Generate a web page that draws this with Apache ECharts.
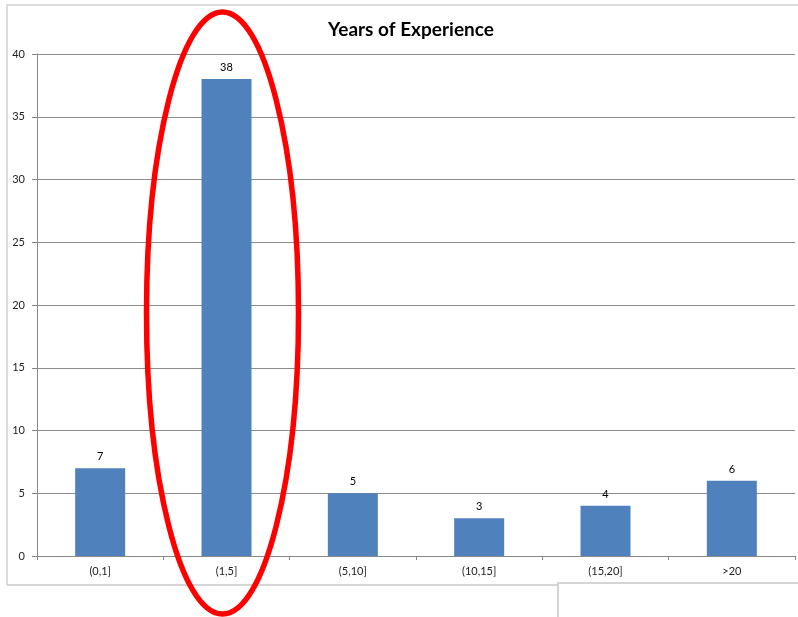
<!DOCTYPE html>
<html>
<head>
<meta charset="utf-8">
<script src="https://cdn.jsdelivr.net/npm/echarts@6/dist/echarts.min.js"></script>
<style>
  html, body { margin: 0; padding: 0; background: #ffffff; }
  #chart { width: 798px; height: 617px; }
</style>
</head>
<body>
<div id="chart"></div>
<script>
// Experience buckets and respondent counts
const categories = ['(0,1]', '(1,5]', '(5,10]', '(10,15]', '(15,20]', '>20'];
const counts = [7, 38, 5, 3, 4, 6];
const yTicks = { min: 0, max: 40, interval: 5 };
const highlighted = '(1,5]';

const chart = echarts.init(document.getElementById('chart'));
const font = 'Lato, "Open Sans", sans-serif';

chart.setOption({
  animation: false,
  backgroundColor: '#ffffff',
  title: {
    text: 'Years of Experience',
    left: 406,
    top: 15,
    textAlign: 'center',
    textStyle: { fontFamily: font, fontSize: 19, fontWeight: 'bold', color: '#000000' }
  },
  grid: { left: 37, right: 3, top: 54, bottom: 61 },
  xAxis: {
    type: 'category',
    data: categories,
    axisLine: { lineStyle: { color: '#888888', width: 1 } },
    axisTick: { show: true, length: 4, lineStyle: { color: '#888888' } },
    axisLabel: { fontFamily: font, fontSize: 11, color: '#222222', margin: 10 }
  },
  yAxis: {
    type: 'value',
    min: yTicks.min,
    max: yTicks.max,
    interval: yTicks.interval,
    axisLine: { show: true, lineStyle: { color: '#888888', width: 1 } },
    axisTick: { show: true, length: 5, lineStyle: { color: '#888888' } },
    axisLabel: { fontFamily: font, fontSize: 11, color: '#222222', margin: 12 },
    splitLine: { lineStyle: { color: '#8c8c8c', width: 1 } }
  },
  series: [{
    type: 'bar',
    data: counts,
    barWidth: 50,
    itemStyle: { color: '#4f81bd' },
    label: {
      show: true,
      position: 'top',
      distance: 6,
      fontFamily: font,
      fontSize: 11,
      color: '#000000'
    }
  }]
});

// Frame of the chart object, the sheet cell edges below it, and the red highlight ring
function drawOverlay() {
  const cx = chart.convertToPixel({ xAxisIndex: 0 }, highlighted);
  chart.setOption({
    graphic: [
      { type: 'polyline', silent: true, z: 0,
        shape: { points: [[7, 585], [7, 5], [798, 5]] },
        style: { stroke: '#d0d0d0', lineWidth: 1.5, fill: null } },
      { type: 'line', silent: true, z: 0,
        shape: { x1: 7, y1: 585, x2: 558, y2: 585 },
        style: { stroke: '#c8c8c8', lineWidth: 1.5 } },
      { type: 'polyline', silent: true, z: 0,
        shape: { points: [[558, 617], [558, 583], [798, 583]] },
        style: { stroke: '#c8c8c8', lineWidth: 1.5, fill: null } },
      { type: 'ellipse', silent: true, z: 100,
        shape: { cx: cx - 4, cy: 313, rx: 76, ry: 301 },
        style: { stroke: '#ff0000', lineWidth: 5.5, fill: null } }
    ]
  });
}
drawOverlay();
</script>
</body>
</html>
